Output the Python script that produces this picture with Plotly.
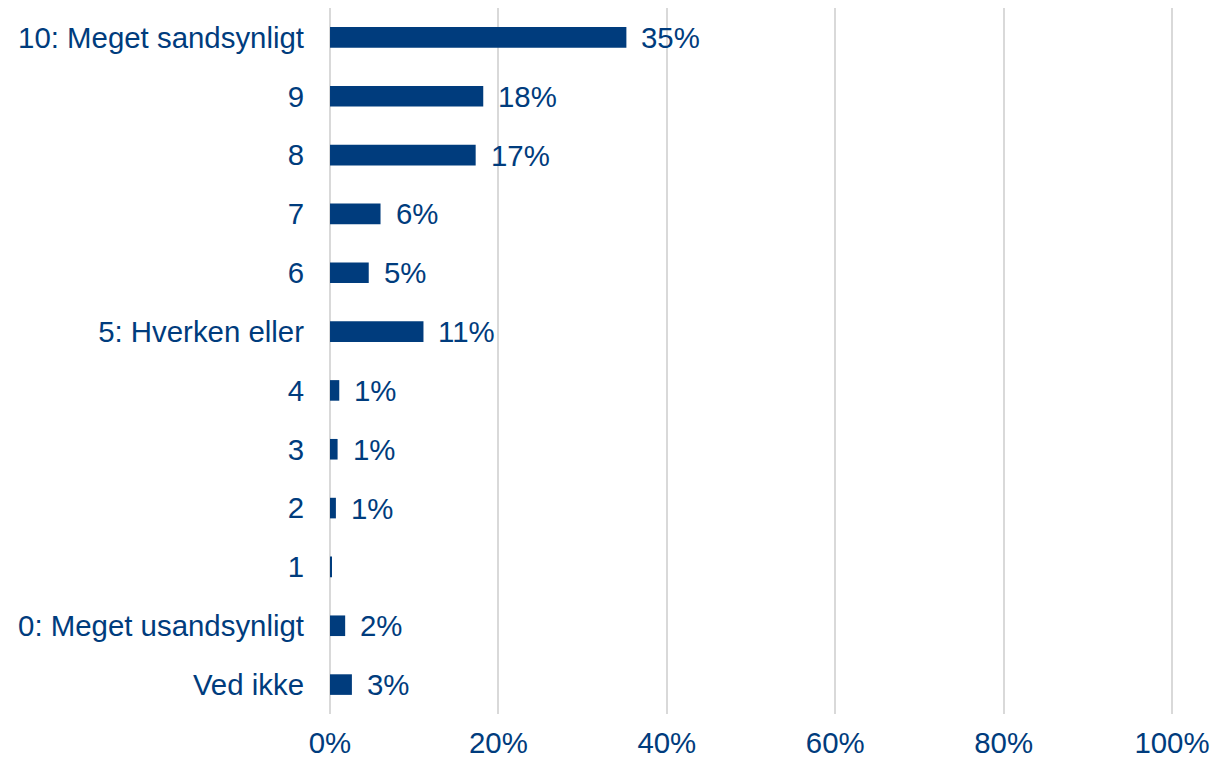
import plotly.graph_objects as go

categories = ["10: Meget sandsynligt", "9", "8", "7", "6", "5: Hverken eller",
              "4", "3", "2", "1", "0: Meget usandsynligt", "Ved ikke"]
values = [35.2, 18.2, 17.3, 6.0, 4.6, 11.1, 1.1, 0.9, 0.7, 0.2, 1.8, 2.6]
labels = ["35%", "18%", "17%", "6%", "5%", "11%", "1%", "1%", "1%", "", "2%", "3%"]
tick_vals = [0, 20, 40, 60, 80, 100]
tick_text = ["0%", "20%", "40%", "60%", "80%", "100%"]

BLUE = "#003C7D"
FONT = "Liberation Sans, Arial, sans-serif"
FS = 29.4

n = len(categories)
fig = go.Figure()
fig.add_trace(go.Bar(
    y=categories, x=values, orientation="h",
    marker=dict(color=BLUE, line=dict(width=0)),
    width=0.35,
))
for i, (v, t) in enumerate(zip(values, labels)):
    if t:
        fig.add_annotation(x=v, y=n - 1 - i, text=t, showarrow=False, xanchor="left",
                           xshift=13, font=dict(family=FONT, size=FS, color=BLUE))

fig.update_layout(
    width=1216, height=753,
    margin=dict(l=321, r=51, t=0, b=47),
    plot_bgcolor="white", paper_bgcolor="white",
    showlegend=False,
    font=dict(family=FONT, size=FS, color=BLUE),
)
fig.update_xaxes(range=[-0.12, 100.12], tickvals=tick_vals, ticktext=tick_text,
                 showgrid=True, gridcolor="#D9D9D9", gridwidth=2,
                 zeroline=False, showline=False, ticks="", ticklen=0,
                 automargin=False, ticklabelstandoff=9,
                 tickfont=dict(size=FS, color=BLUE))
fig.update_yaxes(type="category", categoryorder="array", categoryarray=categories[::-1],
                 showgrid=False, zeroline=False, showline=False, ticks="",
                 automargin=False, ticklabelstandoff=24,
                 tickfont=dict(size=FS, color=BLUE))

fig.write_html("out.html")
